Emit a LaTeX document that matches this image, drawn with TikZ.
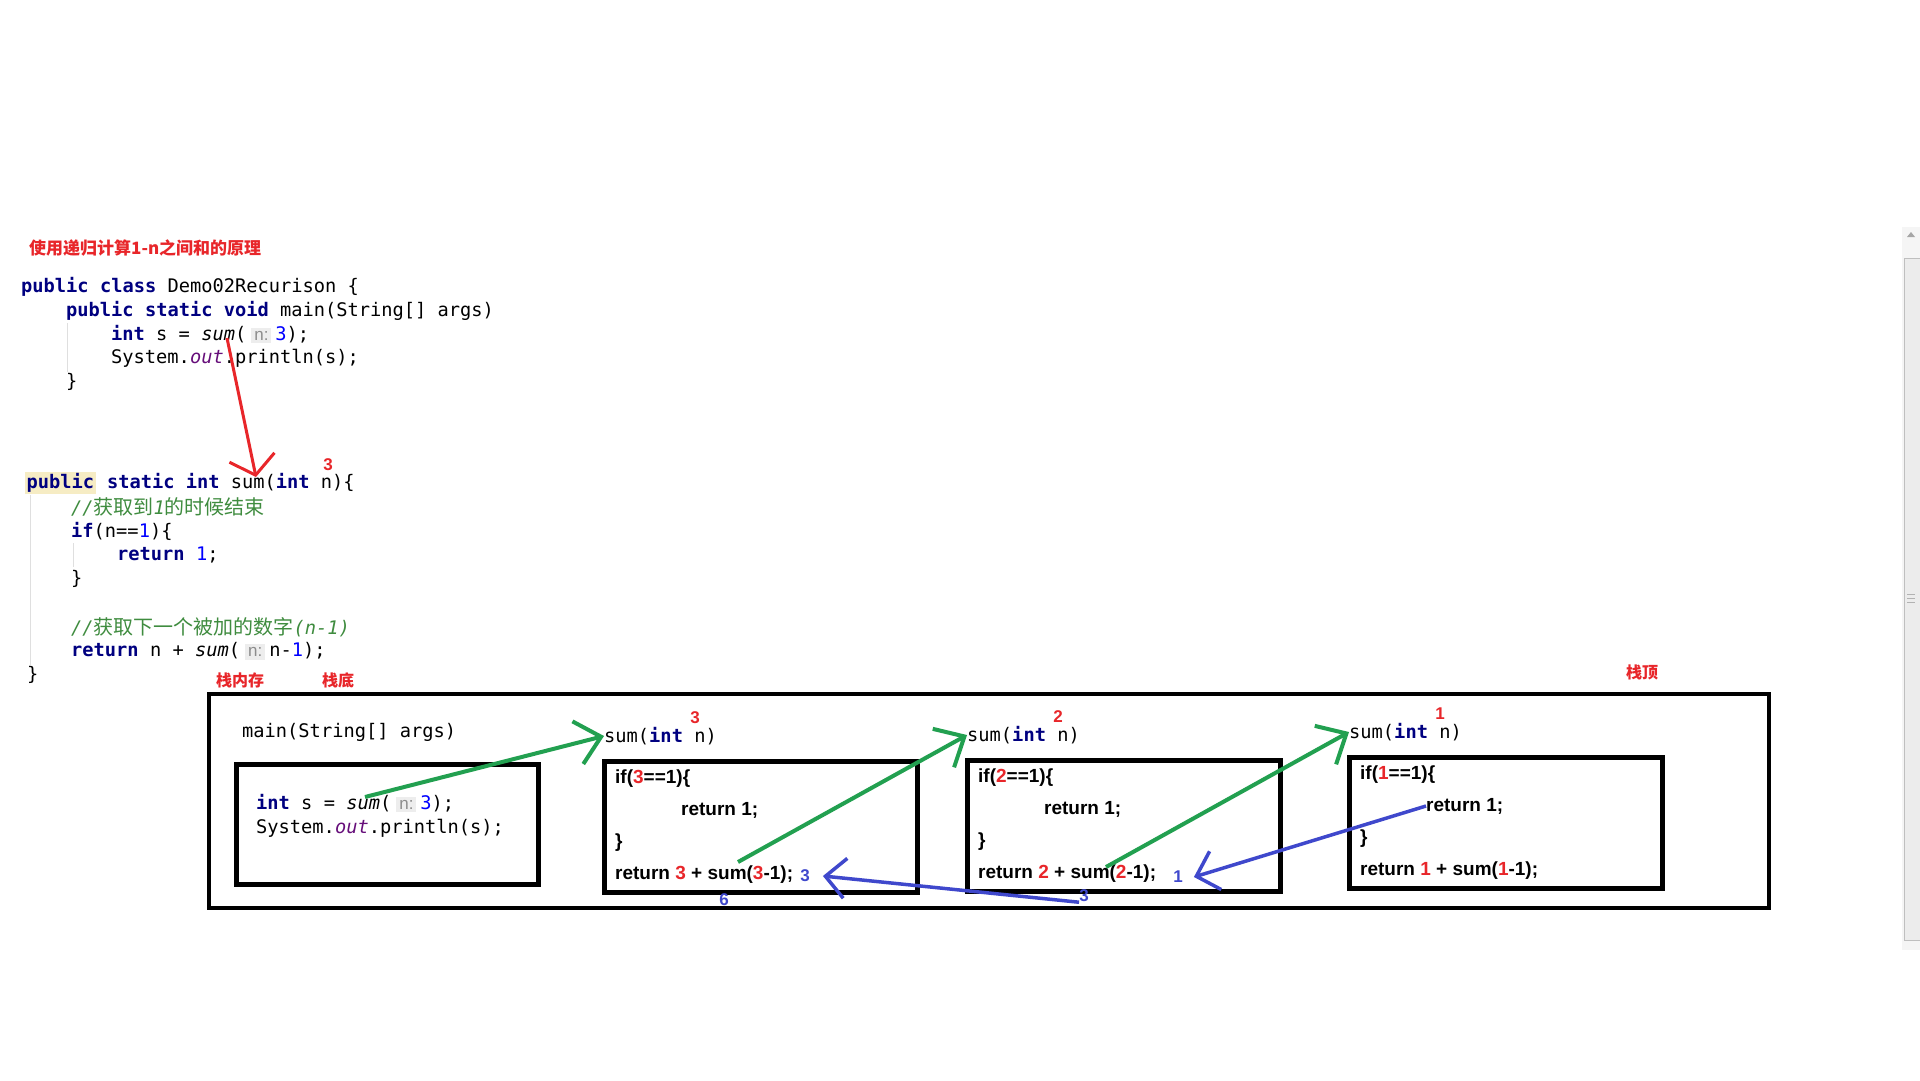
\documentclass[tikz,border=0pt]{standalone}
\usepackage{fontspec}
\usepackage{xcolor}
\usetikzlibrary{arrows.meta}
\setmainfont{Liberation Sans}
\setsansfont{Liberation Sans}
\setmonofont{DejaVu Sans Mono}
\newfontfamily\cjk{Noto Sans CJK SC}

\definecolor{kwblue}{RGB}{0,0,128}
\definecolor{numblue}{RGB}{0,0,255}
\definecolor{cmtgreen}{RGB}{63,140,63}
\definecolor{outpurple}{RGB}{102,14,122}
\definecolor{hintbg}{RGB}{237,237,237}
\definecolor{hintfg}{RGB}{140,140,140}
\definecolor{pubbg}{RGB}{246,236,196}
\definecolor{penred}{RGB}{232,38,42}
\definecolor{pengreen}{RGB}{34,160,80}
\definecolor{penblue}{RGB}{63,72,204}

\newcommand\kw[1]{\textcolor{kwblue}{\bfseries #1}}
\newcommand\nm[1]{\textcolor{numblue}{#1}}
\newcommand\rd[1]{\textcolor{penred}{#1}}
\newcommand\cmt[1]{\textcolor{cmtgreen}{#1}}
\newcommand\zh[1]{{\cjk\fontsize{20}{24}\selectfont #1}}
\newcommand\hint[1]{\hspace{5pt}{\setlength\fboxsep{3pt}\colorbox{hintbg}{\fontsize{17}{17}\selectfont\sffamily\textcolor{hintfg}{#1}}}\hspace{4pt}}
\newcommand\hl[1]{{\setlength\fboxsep{1.5pt}\colorbox{pubbg}{#1}}}

\begin{document}
\begin{tikzpicture}[x=1pt,y=-1pt,
  codeline/.style={anchor=west,inner sep=0pt,font=\fontsize{18.7}{24}\selectfont\ttfamily},
  frametext/.style={anchor=west,inner sep=0pt,font=\fontsize{19}{19}\selectfont\bfseries},
  rednum/.style={inner sep=0pt,text=penred,font=\fontsize{17}{17}\selectfont\bfseries},
  bluenum/.style={inner sep=0pt,text=penblue,font=\fontsize{17}{17}\selectfont\bfseries},
  redlabel/.style={anchor=west,inner sep=0pt,text=penred,font=\cjk\bfseries\fontsize{16}{16}\selectfont},
  stackbox/.style={draw,line width=4.5pt,anchor=north west,inner sep=0pt},
  redarrow/.style={draw=penred,line width=3pt,-{Straight Barb[length=18pt,width=46pt]}},
  greenarrow/.style={draw=pengreen,line width=4pt,-{Straight Barb[length=24pt,width=44pt]}},
  bluearrow/.style={draw=penblue,line width=3.5pt,-{Straight Barb[length=20pt,width=40pt]}},
  guide/.style={draw=gray!25,line width=1pt}]
\fill[white] (0,0) rectangle (1920,1080);
\useasboundingbox (0,0) rectangle (1920,1080);

\node[redlabel,font=\cjk\bfseries\fontsize{17}{17}\selectfont] (title) at (29,248) {使用递归计算1-n之间和的原理};

\draw[guide] (67,323) -- (67,372);
\node[codeline] (c1) at (21,287) {\kw{public class} Demo02Recurison \{};
\node[codeline] (c2) at (66,311) {\kw{public static void} main(String[] args)};
\node[codeline] (c3) at (111,334) {\kw{int} s = \textit{sum}(\hint{n:}\nm{3});};
\node[codeline] (c4) at (111,358) {System.\textcolor{outpurple}{\textit{out}}.println(s);};
\node[codeline] (c5) at (66,382) {\}};

\draw[guide] (30,495) -- (30,665);
\draw[guide] (73,543) -- (73,567);
\node[codeline] (s1) at (25,483) {\hl{\kw{public}} \kw{static int} sum(\kw{int} n)\{};
\node[rednum] (sn) at (328,465) {3};
\node[codeline] (s2) at (71,507) {\cmt{\textit{//}\zh{获取到}\textit{1}\zh{的时候结束}}};
\node[codeline] (s3) at (71,531) {\kw{if}(n==\nm{1})\{};
\node[codeline] (s4) at (117,555) {\kw{return} \nm{1};};
\node[codeline] (s5) at (71,579) {\}};
\node[codeline] (s6) at (71,627) {\cmt{\textit{//}\zh{获取下一个被加的数字}\textit{(n-1)}}};
\node[codeline] (s7) at (71,651) {\kw{return} n + \textit{sum}(\hint{n:}n-\nm{1});};
\node[codeline] (s8) at (27,675) {\}};

\coordinate (redfrom) at (227,338);
\coordinate (redto) at (256,477);
\draw[redarrow] (redfrom) -- (redto);

\node[redlabel] (stackmem) at (216,680) {栈内存};
\node[redlabel] (stackbot) at (322,680) {栈底};
\node[redlabel] (stacktop) at (1626,672) {栈顶};
\node[stackbox,line width=4pt,minimum width=1560pt,minimum height=214pt] (stack) at (207,692) {};

\node[codeline] (mainname) at (242,732) {main(String[] args)};
\node[stackbox,minimum width=302pt,minimum height=120pt] (mainbox) at (234,762) {};
\node[codeline] (m1) at (256,803) {\kw{int} s = \textit{sum}(\hint{n:}\nm{3});};
\node[codeline] (m2) at (256,828) {System.\textcolor{outpurple}{\textit{out}}.println(s);};

\foreach \v/\x/\y in {3/602/759,2/965/758,1/1347/755}
	{
	\node[stackbox,minimum width=313pt,minimum height=131pt] (box\v) at (\x,\y) {};
	\node[codeline] (name\v) at (\x+2,\y-23) {sum(\kw{int} n)};
	\node[rednum] (rn\v) at (\x+93,\y-41) {\v};
	\node[frametext] (if\v) at (\x+13,\y+20) {if(\rd{\v}==1)\{};
	\node[frametext] (ret\v) at (\x+79,\y+51) {return 1;};
	\node[frametext] (cl\v) at (\x+13,\y+84) {\}};
	\node[frametext] (rec\v) at (\x+13,\y+116) {return \rd{\v} + sum(\rd{\v}-1);};
	}

\node[bluenum] (bthree) at (805,876) {3};
\node[bluenum] (bsix) at (724,900) {6};
\node[bluenum] (bone) at (1178,877) {1};
\node[bluenum] (bthreeb) at (1084,896) {3};

\coordinate (gfrom1) at (365,797);
\coordinate (gfrom2) at (738,862);
\coordinate (gfrom3) at (1106,867);
\draw[greenarrow] (gfrom1) -- (name3.west);
\draw[greenarrow] (gfrom2) -- (name2.west);
\draw[greenarrow] (gfrom3) -- (name1.west);
\draw[bluearrow] (ret1.west) -- ([xshift=11pt]bone.east);
\draw[bluearrow] (bthreeb.south west) -- ([xshift=13pt]bthree.east);

\fill[gray!8] (1902,227) rectangle (1920,950);
\draw[gray!50,fill=gray!15] (1904,258) rectangle (1921,940);
\fill[gray!70] (1907,237) -- (1915,237) -- (1911,232) -- cycle;
\foreach \g in {594,598,602}
	\draw[gray!60] (1907,\g) -- (1915,\g);
\end{tikzpicture}
\end{document}
